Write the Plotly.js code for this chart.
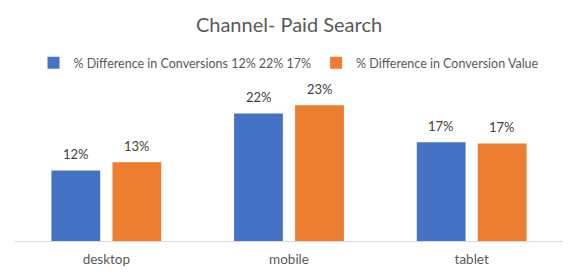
<!DOCTYPE html>
<html>
<head>
<meta charset="utf-8">
<script src="https://cdn.plot.ly/plotly-3.0.1.min.js"></script>
<style>html,body{margin:0;padding:0;background:#fff;}#chart{width:580px;height:279px;}</style>
</head>
<body>
<div id="chart"></div>
<script>
var categories = ["desktop", "mobile", "tablet"];
var seriesNames = ["% Difference in Conversions 12% 22% 17%", "% Difference in Conversion Value"];
var conversions = [0.120, 0.217, 0.168];
var conversionValue = [0.134, 0.231, 0.166];
var colors = ["#4472C4", "#ED7D31"];

var FONT = "Lato, 'Open Sans', sans-serif";
var TXT = "#595959";

var series = [conversions, conversionValue];
var traces = series.map(function (vals, i) {
  return {
    type: "bar",
    name: seriesNames[i],
    x: categories,
    y: vals,
    marker: { color: colors[i] },
    hoverinfo: "none"
  };
});

var annotations = [];
series.forEach(function (vals, i) {
  vals.forEach(function (v, j) {
    annotations.push({
      x: categories[j], y: v, xref: "x", yref: "y",
      text: Math.round(v * 100) + "%",
      showarrow: false, yanchor: "bottom", xanchor: "center",
      xshift: i === 0 ? -30.5 : 30.5, yshift: 6,
      font: { family: FONT, size: 13, color: "#404040" }
    });
  });
});

var layout = {
  width: 580, height: 279,
  margin: { l: 15, r: 17, t: 94, b: 38 },
  paper_bgcolor: "#fff", plot_bgcolor: "#fff",
  font: { family: FONT, color: TXT },
  title: {
    text: "Channel- Paid Search",
    font: { family: FONT, size: 20, color: TXT },
    x: 0.5, xanchor: "center", xref: "paper",
    y: 1 - 25 / 279, yref: "container", yanchor: "middle"
  },
  barmode: "group",
  bargap: 0.332,
  bargroupgap: 0.2,
  showlegend: true,
  legend: {
    orientation: "h",
    x: 0.5, xanchor: "center", xref: "paper",
    y: 1 - 63 / 279, yref: "container", yanchor: "middle",
    font: { family: FONT, size: 12.5, color: TXT },
    itemclick: false, itemdoubleclick: false
  },
  xaxis: {
    type: "category",
    showline: true, linecolor: "#D9D9D9", linewidth: 1,
    ticks: "", showgrid: false, zeroline: false,
    tickfont: { family: FONT, size: 13.5, color: TXT },
    ticklabelstandoff: 6
  },
  yaxis: {
    range: [0, 0.25],
    visible: false, showgrid: false, zeroline: false
  },
  annotations: annotations
};

Plotly.newPlot("chart", traces, layout, { displayModeBar: false, staticPlot: true });
</script>
</body>
</html>
